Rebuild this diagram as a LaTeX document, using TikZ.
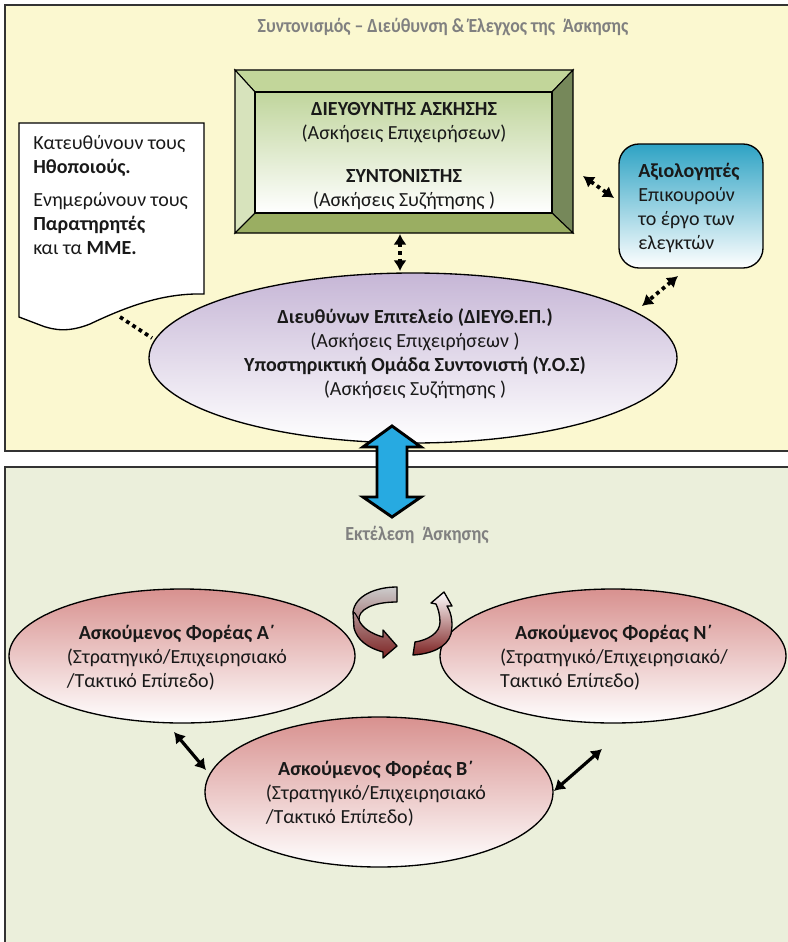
\documentclass[tikz,border=0pt]{standalone}
\usepackage{fontspec}
\usepackage{graphicx}
\setmainfont{Carlito}
\usetikzlibrary{arrows.meta,shapes.geometric}
\definecolor{panelY}{HTML}{FBF8D0}
\definecolor{panelG}{HTML}{EBEFDB}
\definecolor{bevTop}{HTML}{C2D69A}
\definecolor{bevLeft}{HTML}{D7E3BC}
\definecolor{bevRight}{HTML}{76885A}
\definecolor{bevBot}{HTML}{9AAE62}
\definecolor{innerG}{HTML}{C0D59C}
\definecolor{evalTop}{HTML}{2EA3C4}
\definecolor{purTop}{HTML}{C6B6D6}
\definecolor{roseTop}{HTML}{D8918F}
\definecolor{blueArr}{HTML}{27AAE1}
\definecolor{titleGray}{HTML}{808080}
\definecolor{darkRed}{HTML}{7E2424}
\begin{document}
\begin{tikzpicture}[x=0.75pt,y=-0.75pt,
  font=\fontsize{15}{18}\selectfont,
  panel/.style={draw=black!80,line width=1.1pt},
  paneltitle/.style={text=titleGray,font=\fontsize{15}{18}\selectfont\bfseries,inner sep=0pt},
  txt/.style={inner sep=0pt,text=black!90},
  bevel/.style={draw=black,line width=0.8pt,line join=miter},
  evalbox/.style={draw=black,line width=1pt,rounded corners=15pt,top color=evalTop,bottom color=white,
    minimum width=108pt,minimum height=93pt,inner sep=0pt},
  purell/.style={ellipse,draw=black,line width=1pt,top color=purTop,bottom color=white,
    minimum width=396pt,minimum height=127.5pt,inner sep=0pt},
  roseell/.style={ellipse,draw=black,line width=1pt,top color=roseTop,bottom color=white,
    minimum width=259.5pt,minimum height=100.5pt,inner sep=0pt},
  dotarr/.style={line width=2.8pt,dash pattern=on 2.8pt off 2.8pt,
    {Latex[length=8pt,width=10pt]}-{Latex[length=8pt,width=10pt]}},
  dotline/.style={line width=2.8pt,dash pattern=on 2.8pt off 2.8pt},
  solarr/.style={line width=2.4pt,{Latex[length=8pt,width=10pt]}-{Latex[length=8pt,width=10pt]}}
]
\useasboundingbox (0,0) rectangle (788,942);
\clip (0,0) rectangle (788,942);

% panels
\filldraw[panel,fill=panelY] (5,5) rectangle (820,451);
\filldraw[panel,fill=panelG] (5,467) rectangle (820,980);
\node[paneltitle] (t1) at (443,27) {\scalebox{0.89}[1]{Συντονισμός – Διεύθυνση \& Έλεγχος της\ \ Άσκησης}};
\node[paneltitle] (t2) at (417,535) {\scalebox{0.9}[1]{Εκτέλεση\ \ Άσκησης}};

% bevelled director box
\filldraw[bevel,fill=bevTop] (235,70) -- (573,70) -- (552,92) -- (255,92) -- cycle;
\filldraw[bevel,fill=bevLeft] (235,70) -- (255,92) -- (255,213) -- (235,233) -- cycle;
\filldraw[bevel,fill=bevRight] (573,70) -- (573,233) -- (552,213) -- (552,92) -- cycle;
\filldraw[bevel,fill=bevBot] (235,233) -- (255,213) -- (552,213) -- (573,233) -- cycle;
\node[draw=black,line width=0.8pt,top color=innerG,bottom color=white,
  minimum width=222.75pt,minimum height=90.75pt,inner sep=0pt] (dirin) at (403.5,152.5) {};
\node[draw=none,minimum width=253.5pt,minimum height=122.25pt,inner sep=0pt] (dir) at (404,151.5) {};
\node[txt,align=center] (dirtxt) at (404,156)
  {\textbf{ΔΙΕΥΘΥΝΤΗΣ ΑΣΚΗΣΗΣ}\\(Ασκήσεις Επιχειρήσεων)\\[14.25pt]
   \textbf{ΣΥΝΤΟΝΙΣΤΗΣ}\\(Ασκήσεις Συζήτησης )};

% document shape
\filldraw[draw=black,line width=1pt,fill=white] (19,123) -- (204,123) -- (204,294)
  .. controls (165,293) and (130,305) .. (90,324)
  .. controls (70,332) and (55,331) .. (40,325) -- (19,317) -- cycle;
\node[txt,anchor=north west,align=left] (doctxt) at (33,135)
  {Κατευθύνουν τους\\\textbf{Ηθοποιούς.}\\[7pt]Ενημερώνουν τους\\\textbf{Παρατηρητές}\\και τα \textbf{ΜΜΕ.}};

% evaluators
\node[evalbox] (eval) at (691,206) {};
\node[txt,anchor=north west,align=left] (evaltxt) at (638,163)
  {\textbf{Αξιολογητές}\\Επικουρούν\\το έργο των\\ελεγκτών};

% directing staff ellipse
\node[purell] (dep) at (413,358) {};
\node[txt,align=center] (deptxt) at (415,354)
  {\textbf{Διευθύνων Επιτελείο (ΔΙΕΥΘ.ΕΠ.)}\\(Ασκήσεις Επιχειρήσεων )\\
   \textbf{Υποστηρικτική Ομάδα Συντονιστή (Υ.Ο.Σ)}\\(Ασκήσεις Συζήτησης )};

% dotted connectors
\coordinate (c1a) at (583,176); \coordinate (c1b) at (614,198);
\coordinate (c2a) at (400,234); \coordinate (c2b) at (400,271);
\coordinate (c3a) at (678,276); \coordinate (c3b) at (642,306);
\coordinate (c4a) at (120,317); \coordinate (c4b) at (152,338);
\draw[dotarr] (c1a) -- (c1b);
\draw[dotarr] (c2a) -- (c2b);
\draw[dotarr] (c3a) -- (c3b);
\draw[dotline] (c4a) -- (c4b);

% big blue double arrow
\filldraw[draw=black,line width=2.2pt,line join=miter,fill=blueArr]
  (392,426) -- (421,447) -- (407,447) -- (407,497) -- (421,497) -- (392,517)
  -- (363,497) -- (377,497) -- (377,447) -- (363,447) -- cycle;

% bottom ellipses
\node[roseell] (ea) at (182,656) {};
\node[roseell] (en) at (613,656) {};
\node[roseell,minimum width=261pt,minimum height=112.5pt] (eb) at (379,792) {};
\node[txt] (atxt) at (177,659) {\begin{tabular}{@{}l@{}}\multicolumn{1}{@{}c@{}}{\textbf{Ασκούμενος Φορέας Α΄}}\\(Στρατηγικό/Επιχειρησιακό\\/Τακτικό Επίπεδο)\end{tabular}};
\node[txt] (ntxt) at (614,659) {\begin{tabular}{@{}l@{}}\multicolumn{1}{@{}c@{}}{\textbf{Ασκούμενος Φορέας Ν΄}}\\(Στρατηγικό/Επιχειρησιακό/\\Τακτικό Επίπεδο)\end{tabular}};
\node[txt] (btxt) at (376,795) {\begin{tabular}{@{}l@{}}\multicolumn{1}{@{}c@{}}{\textbf{Ασκούμενος Φορέας Β΄}}\\(Στρατηγικό/Επιχειρησιακό\\/Τακτικό Επίπεδο)\end{tabular}};

% solid connectors
\coordinate (s1a) at (174,732); \coordinate (s1b) at (206,770);
\coordinate (s2a) at (602,749); \coordinate (s2b) at (554,791);
\draw[solarr] (s1a) -- (s1b);
\draw[solarr] (s2a) -- (s2b);

% cycle arrows
\filldraw[draw=black,line width=1pt,line join=round,top color=black!20,bottom color=darkRed]
  (397,587) .. controls (375,587) and (355,596) .. (353,612) -- (354,628)
  .. controls (357,640) and (368,648) .. (383,652) -- (383,658) -- (397,646) -- (383,630) -- (383,637)
  .. controls (372,634) and (362,628) .. (359,620)
  .. controls (358,610) and (372,602) .. (397,602) -- cycle;
\draw[line width=0.8pt] (359,620) .. controls (356,615) and (355,612) .. (353,612);
\filldraw[draw=black,line width=1pt,line join=round,top color=white,bottom color=darkRed]
  (413,655) -- (415,642) .. controls (428,640) and (440,633) .. (440,622)
  .. controls (440,615) and (438,608) .. (436,604) -- (431,603) -- (444,592) -- (452,606) -- (447,606)
  .. controls (452,614) and (453,624) .. (451,634)
  .. controls (447,648) and (430,654) .. (413,655) -- cycle;
\end{tikzpicture}
\end{document}
